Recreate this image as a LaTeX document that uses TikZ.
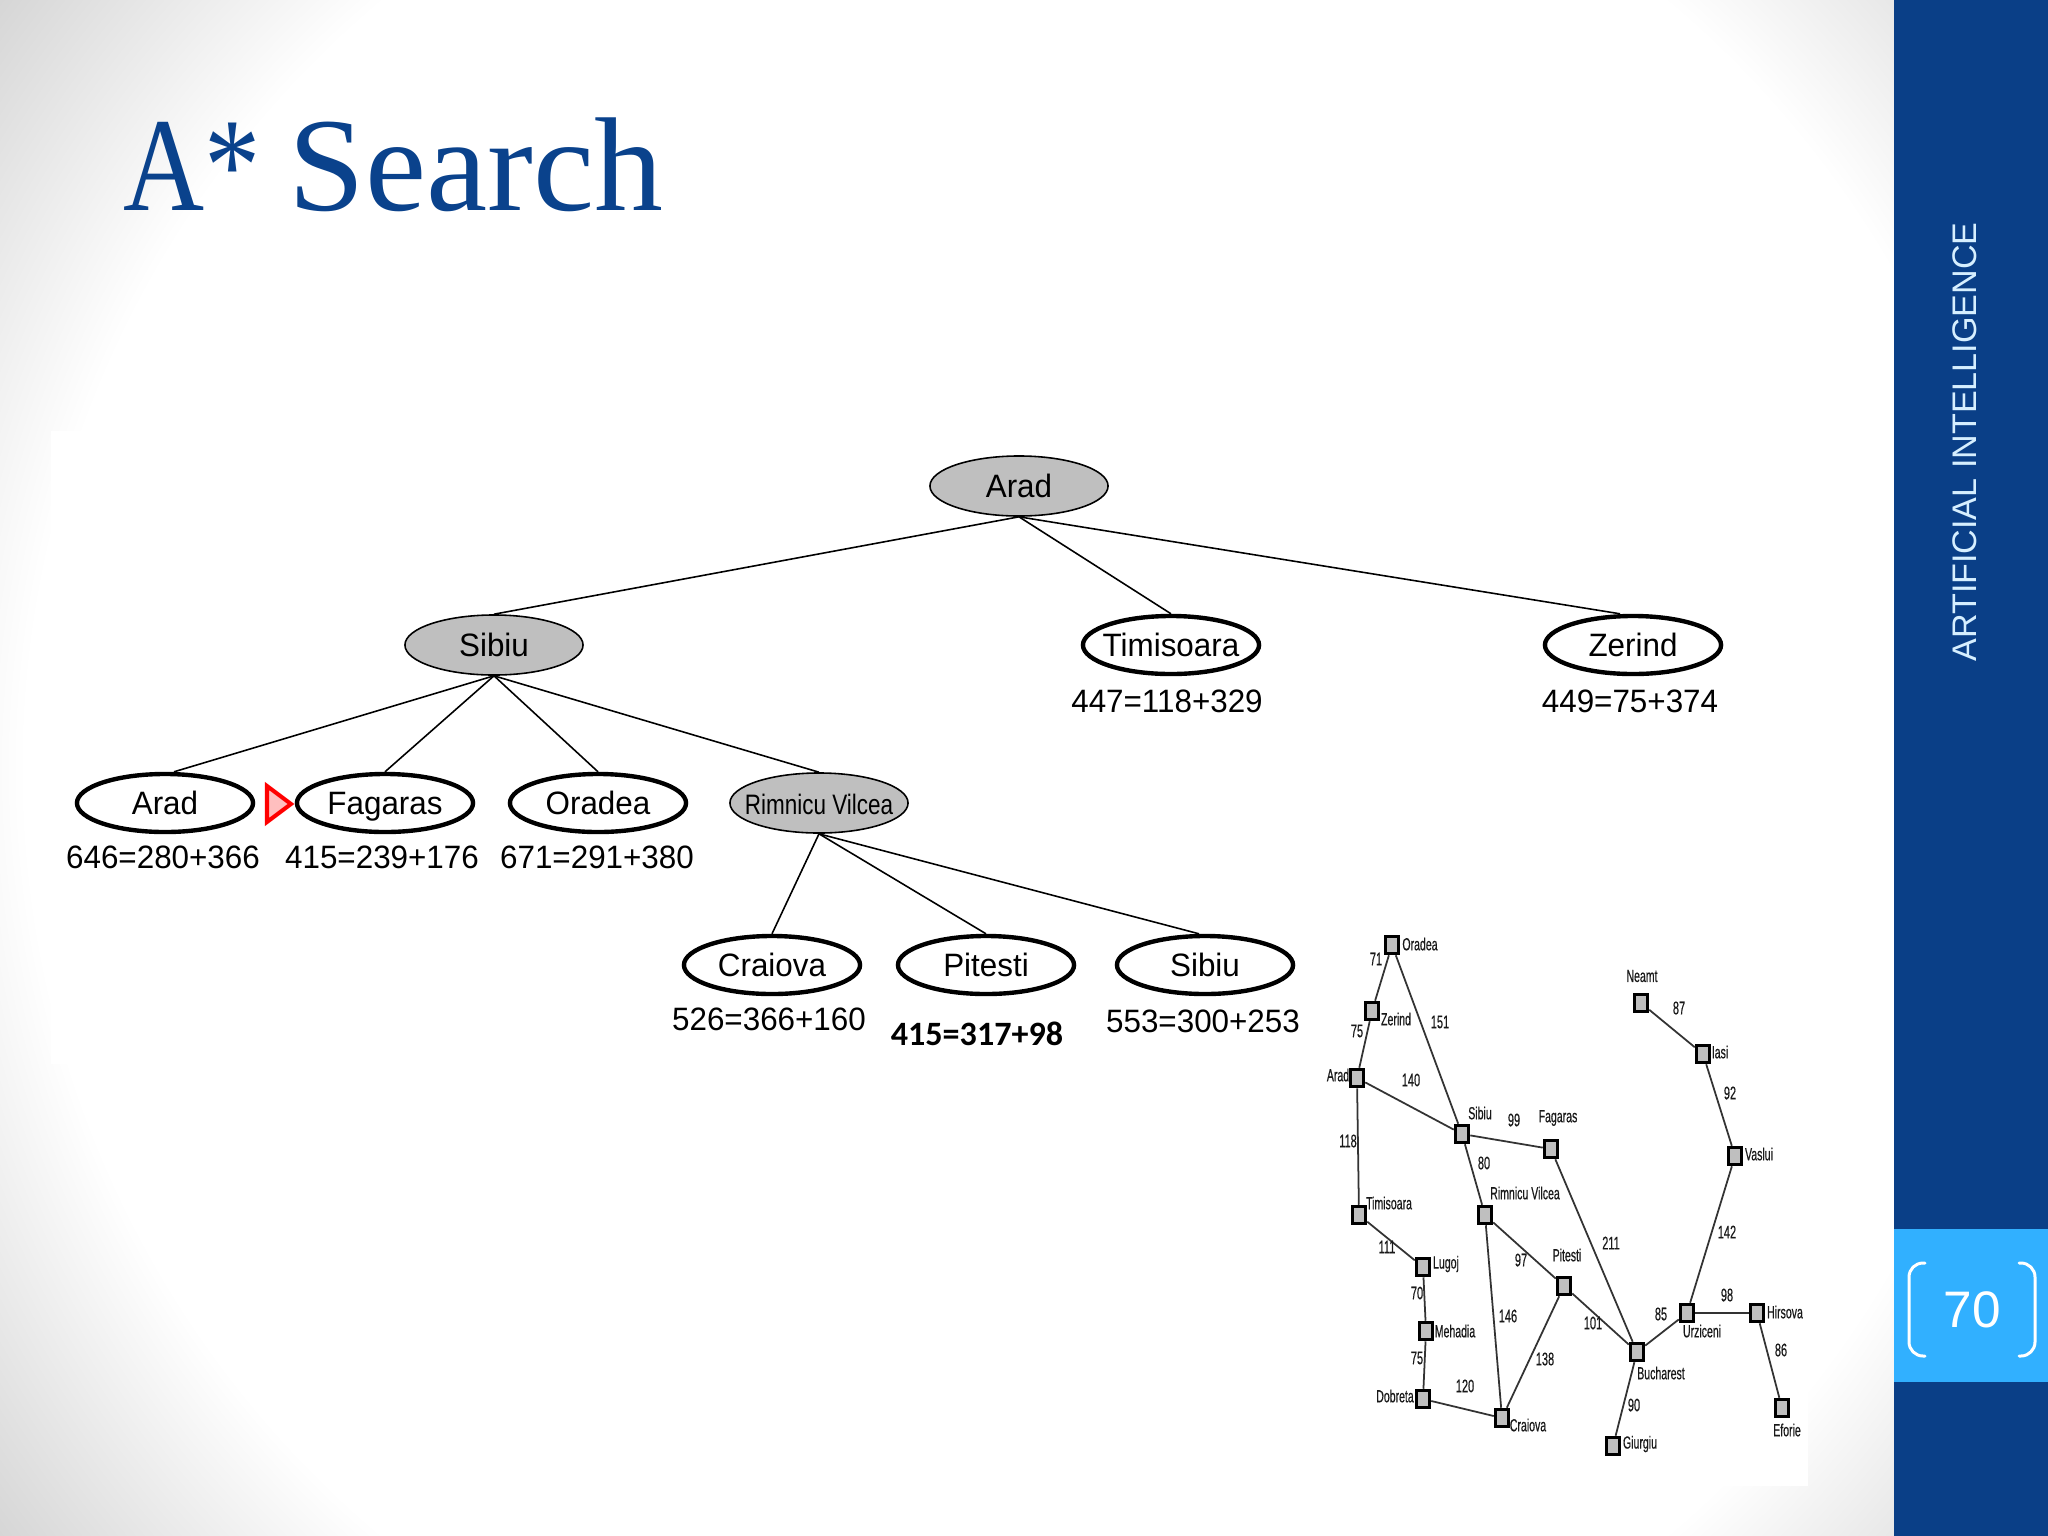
\documentclass[tikz,border=0pt]{standalone}
\usepackage{fontspec}
\setmainfont{Liberation Sans}
\newfontfamily\cimfont[FakeStretch=1.03]{Liberation Serif}
\newfontfamily\cimafont[FakeStretch=0.84]{Liberation Serif}
\newfontfamily\fafont[FakeStretch=0.97]{Liberation Sans}
\newfontfamily\rvfont[FakeStretch=0.8]{Liberation Sans}
\newfontfamily\mapfont[FakeStretch=0.6,FakeBold=0.4]{Liberation Sans}
\newfontfamily\calfont{Carlito}
\usetikzlibrary{shapes.geometric}
\definecolor{sotetkek}{HTML}{0A3F87}
\definecolor{vilagoskek}{HTML}{31B0FF}
\definecolor{cimkek}{HTML}{0A428C}
\definecolor{szurke}{HTML}{BFBFBF}
\definecolor{hg}{HTML}{D6D6D6}
\pgfdeclareradialshading{hatter}{\pgfpoint{0bp}{0bp}}{color(0bp)=(white); color(19.5bp)=(white); color(25bp)=(hg); color(50bp)=(hg)}
\tikzset{
  zart/.style={ellipse,draw,fill=szurke,line width=.45pt,minimum width=1.78cm,minimum height=.6cm,inner xsep=-4mm,inner ysep=0pt,text height=8.2pt,text depth=1.9pt,font=\fafont\fontsize{9.2}{11}\selectfont},
  nyitott/.style={ellipse,draw,fill=white,line width=1.25pt,minimum width=1.76cm,minimum height=.58cm,inner xsep=-4mm,inner ysep=0pt,text height=8.2pt,text depth=1.9pt,font=\fafont\fontsize{9.2}{11}\selectfont},
  ertek/.style={inner sep=0pt,font=\fafont\fontsize{9.2}{11}\selectfont},
  ag/.style={line width=.45pt},
  varos/.style={rectangle,draw,fill=szurke,line width=1pt,minimum width=.13cm,minimum height=.17cm,inner sep=0pt},
  nev/.style={inner sep=0pt,text=black!90,font=\mapfont\fontsize{5}{6}\selectfont},
  suly/.style={inner sep=0pt,text=black!90,font=\mapfont\fontsize{5.2}{6}\selectfont},
  ut/.style={line width=.5pt,black!80},
}
\begin{document}
\begin{tikzpicture}[x=.01cm,y=-.01cm]
  \useasboundingbox (0,0) rectangle (2048,1536);
  % slide
  \begin{scope}
    \clip (0,0) rectangle (2048,1536);
    \shade[shading=hatter] (-256,-512) rectangle (2304,2048);
  \end{scope}
  \fill[sotetkek] (1894,0) rectangle (2048,1536);
  \fill[vilagoskek] (1894,1229) rectangle (2048,1382);
  \fill[white] (51,431) rectangle (1320,1064);
  \fill[white] (1313,925) rectangle (1808,1486);
  \node[anchor=base west,inner sep=0pt,text=cimkek,font=\fontsize{38}{44}\selectfont] (cim) at (123,210) {\cimafont A* \cimfont Search};
  \node[rotate=90,inner sep=0pt,text=white!80!vilagoskek,font=\fontsize{9.7}{12}\selectfont] (oldal) at (1965,442) {ARTIFICIAL INTELLIGENCE};
  \node[inner sep=0pt,text=white,font=\fontsize{14.6}{16}\selectfont] (szam) at (1972,1310) {70};
  \draw[white,line width=.85pt,line cap=round,rounded corners=.14cm] (1925,1263) -- (1909,1263) -- (1909,1356) -- (1925,1356);
  \draw[white,line width=.85pt,line cap=round,rounded corners=.14cm] (2019,1263) -- (2035,1263) -- (2035,1356) -- (2019,1356);

  % tree
  \node[zart] (arad) at (1019,486) {Arad};
  \node[zart] (sibiu) at (494,645) {Sibiu};
  \node[nyitott] (timi) at (1171,645) {Timisoara};
  \node[nyitott] (zerind) at (1633,645) {Zerind};
  \node[nyitott] (arad2) at (165,803) {Arad};
  \node[nyitott] (fagaras) at (385,803) {Fagaras};
  \node[nyitott] (oradea) at (598,803) {Oradea};
  \node[zart,font=\rvfont\fontsize{8}{10}\selectfont] (rv) at (819,803) {Rimnicu Vilcea};
  \node[nyitott] (craiova) at (772,965) {Craiova};
  \node[nyitott] (pitesti) at (986,965) {Pitesti};
  \node[nyitott] (sibiu2) at (1205,965) {Sibiu};
  \draw[ag] (arad.south) -- (sibiu.north);
  \draw[ag] (arad.south) -- (timi.north);
  \draw[ag] (arad.south) -- ([xshift=-.13cm]zerind.north);
  \draw[ag] (sibiu.south) -- ([xshift=.09cm]arad2.north);
  \foreach \c in {fagaras,oradea,rv} \draw[ag] (sibiu.south) -- (\c.north);
  \foreach \c in {craiova,pitesti} \draw[ag] (rv.south) -- (\c.north);
  \draw[ag] (rv.south) -- ([xshift=-.06cm]sibiu2.north);
  \node[ertek] (e1) at (1167,701) {447=118+329};
  \node[ertek] (e2) at (1630,701) {449=75+374};
  \node[ertek] (e3) at (163,857) {646=280+366};
  \node[ertek] (e4) at (382,857) {415=239+176};
  \node[ertek] (e5) at (597,857) {671=291+380};
  \node[ertek] (e6) at (769,1019) {526=366+160};
  \node[inner sep=0pt,font=\calfont\bfseries\fontsize{9.7}{11}\selectfont] (e7) at (977,1034) {415=317+98};
  \node[ertek] (e8) at (1203,1021) {553=300+253};
  \draw[red,line width=1.15pt,fill=red!25,line join=miter] (267,786) -- (291,804) -- (267,822) -- cycle;

  % map
  \foreach \n/\x/\y/\lx/\ly in {Oradea/1392/945/1420/944,Zerind/1372/1011/1396/1019,Arad/1357/1078/1338/1075,
    Sibiu/1462/1134/1480/1113,Fagaras/1551/1149/1558/1118,Timisoara/1359/1215/1389/1203,
    Rimnicu Vilcea/1485/1215/1525/1193,Lugoj/1423/1267/1446/1264,Pitesti/1564/1286/1567/1255,
    Mehadia/1426/1331/1455/1331,Dobreta/1423/1399/1395/1396,Craiova/1502/1418/1528/1425,
    Bucharest/1637/1352/1661/1373,Urziceni/1687/1313/1702/1331,Hirsova/1757/1313/1785/1312,
    Eforie/1782/1408/1787/1430,Giurgiu/1613/1446/1640/1444,Neamt/1641/1003/1642/976,
    Iasi/1703/1054/1720/1052,Vaslui/1735/1156/1759/1154} {
    \node[varos] (m\n) at (\x,\y) {};
    \node[nev] (l\n) at (\lx,\ly) {\n};
  }
  \foreach \a/\b/\w/\lx/\ly in {Oradea/Zerind/71/1376/959,Zerind/Arad/75/1357/1031,Oradea/Sibiu/151/1440/1022,
    Arad/Sibiu/140/1411/1080,Sibiu/Fagaras/99/1514/1120,Sibiu/Rimnicu Vilcea/80/1484/1163,
    Arad/Timisoara/118/1348/1141,Timisoara/Lugoj/111/1387/1247,Rimnicu Vilcea/Pitesti/97/1521/1260,
    Fagaras/Bucharest/211/1611/1243,Lugoj/Mehadia/70/1417/1293,Rimnicu Vilcea/Craiova/146/1508/1316,
    Pitesti/Craiova/138/1545/1359,Pitesti/Bucharest/101/1593/1323,Mehadia/Dobreta/75/1417/1358,
    Dobreta/Craiova/120/1465/1386,Bucharest/Urziceni/85/1661/1314,Urziceni/Hirsova/98/1727/1295,
    Hirsova/Eforie/86/1781/1350,Bucharest/Giurgiu/90/1634/1405,Urziceni/Vaslui/142/1727/1232,
    Iasi/Vaslui/92/1730/1093,Neamt/Iasi/87/1679/1008} {
    \draw[ut] (m\a) -- (m\b);
    \node[suly] (w\a\b) at (\lx,\ly) {\w};
  }
\end{tikzpicture}
\end{document}
